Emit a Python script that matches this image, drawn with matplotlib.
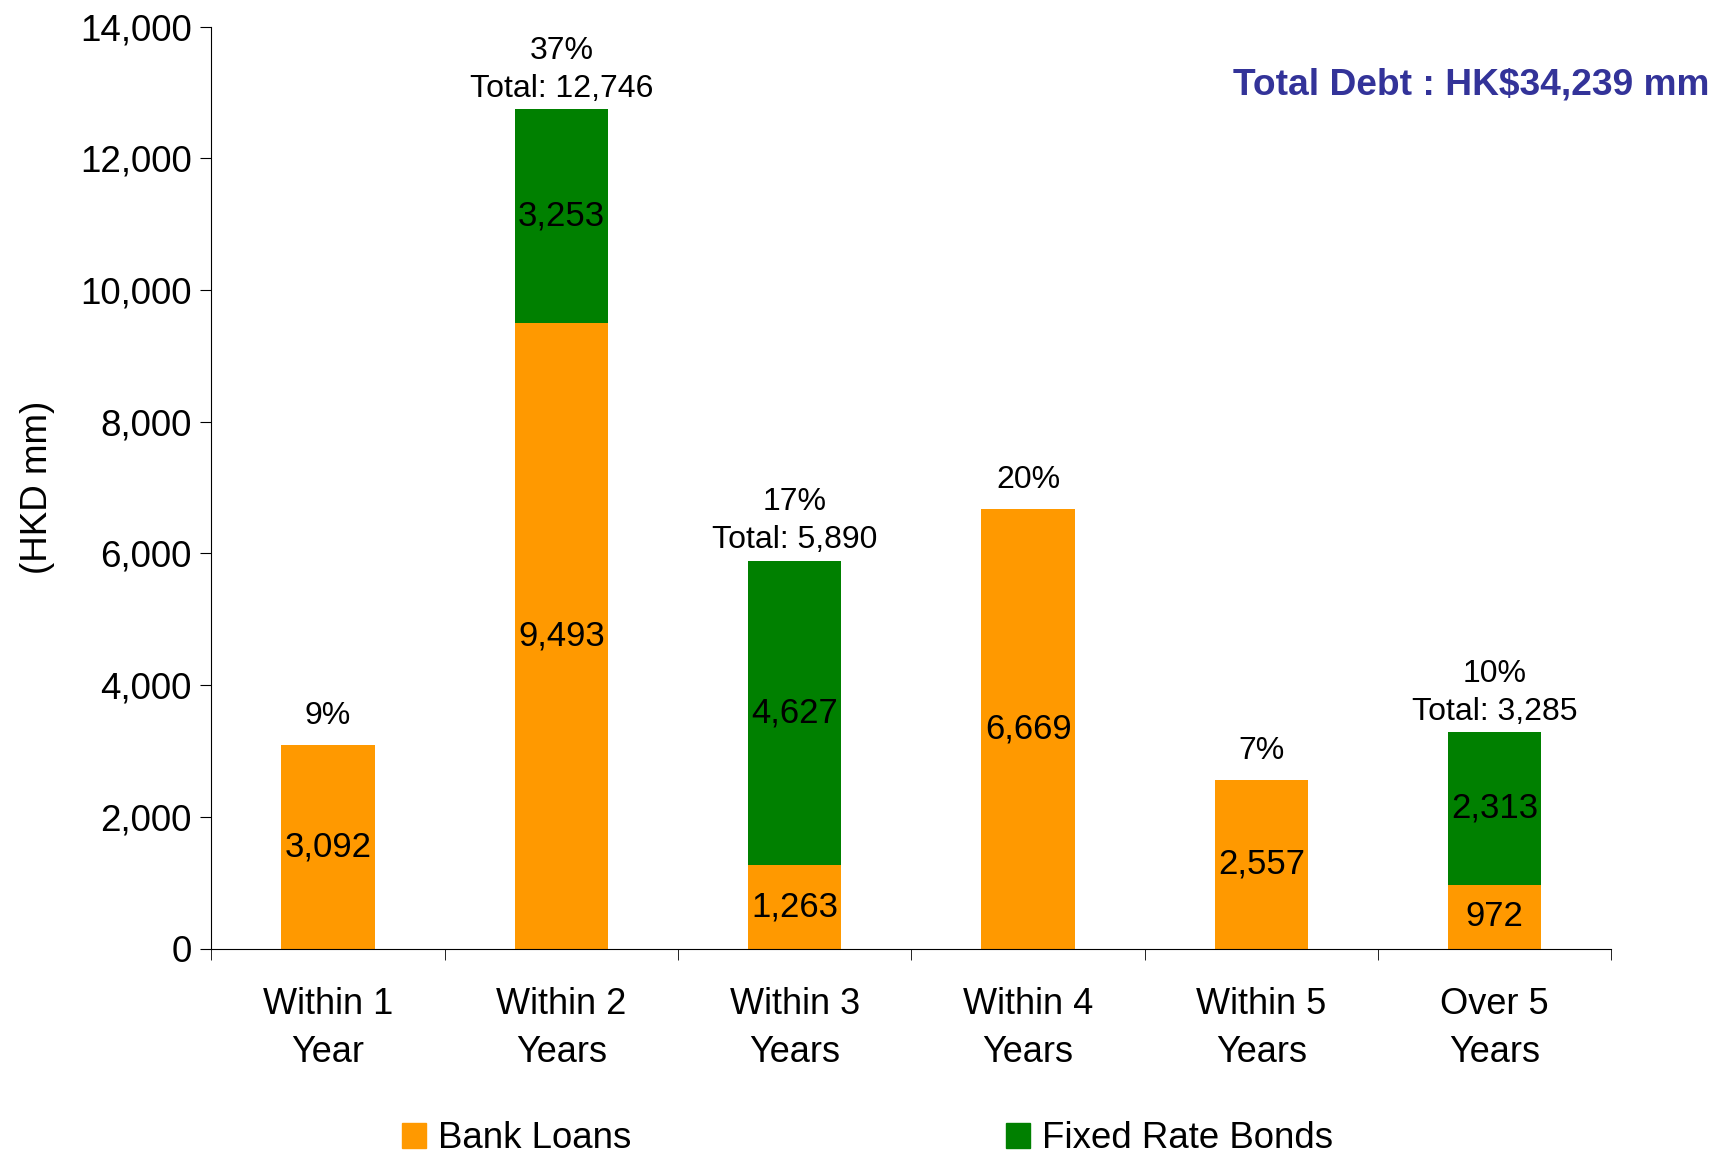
import numpy as np
import matplotlib.pyplot as plt
from matplotlib.patches import Patch

plt.rcParams['font.family'] = ['Liberation Sans', 'DejaVu Sans']

categories = ["Within 1\nYear", "Within 2\nYears", "Within 3\nYears",
              "Within 4\nYears", "Within 5\nYears", "Over 5\nYears"]
bank_loans = [3092, 9493, 1263, 6669, 2557, 972]
bonds = [0, 3253, 4627, 0, 0, 2313]
top_labels = ["9%", "37%\nTotal: 12,746", "17%\nTotal: 5,890",
              "20%", "7%", "10%\nTotal: 3,285"]

orange = "#FF9900"
green = "#008000"

fig = plt.figure(figsize=(17.18, 11.54), dpi=100)
ax = fig.add_axes([0.123, 0.178, 0.815, 0.799])

x = np.arange(len(categories))
w = 0.4
ax.bar(x, bank_loans, w, color=orange)
ax.bar(x, bonds, w, bottom=bank_loans, color=green)

# value labels inside the bars
for i in range(len(x)):
    ax.text(x[i], bank_loans[i] / 2, f"{bank_loans[i]:,}", ha='center', va='center', fontsize=25)
    if bonds[i] > 0:
        ax.text(x[i], bank_loans[i] + bonds[i] / 2, f"{bonds[i]:,}", ha='center', va='center', fontsize=25)
    total = bank_loans[i] + bonds[i]
    off = 4 if bonds[i] > 0 else 10
    ax.annotate(top_labels[i], (x[i], total), xytext=(0, off), textcoords='offset points',
                ha='center', va='bottom', fontsize=23, linespacing=1.35)

ax.set_xlim(-0.5, len(categories) - 0.5)
ax.set_ylim(0, 14000)
ax.set_yticks(range(0, 14001, 2000))
ax.set_yticklabels([f"{v:,}" for v in range(0, 14001, 2000)], fontsize=26.5)
ax.set_xticks(x)
ax.set_xticklabels(categories, fontsize=26, linespacing=1.45)
ax.tick_params(axis='x', length=0, pad=28)
ax.set_xticks(np.arange(-0.5, len(categories)), minor=True)
ax.tick_params(axis='x', which='minor', length=8, direction='out')
ax.tick_params(axis='y', length=8, direction='out', pad=6)
ax.spines['top'].set_visible(False)
ax.spines['right'].set_visible(False)
ax.set_ylabel("(HKD mm)", fontsize=26.5, labelpad=18)

fig.text(0.995, 0.926, "Total Debt : HK$34,239 mm", ha='right', va='center',
         fontsize=26.7, fontweight='bold', color='#333399')

handles = [Patch(color=orange, label="Bank Loans"), Patch(color=green, label="Fixed Rate Bonds")]
fig.legend(handles=handles, loc='center', bbox_to_anchor=(0.505, 0.013), ncol=2,
           frameon=False, fontsize=26.4, columnspacing=10.2, handlelength=0.65,
           handleheight=0.7, handletextpad=0.35)

fig.savefig("out.png", dpi=100)
